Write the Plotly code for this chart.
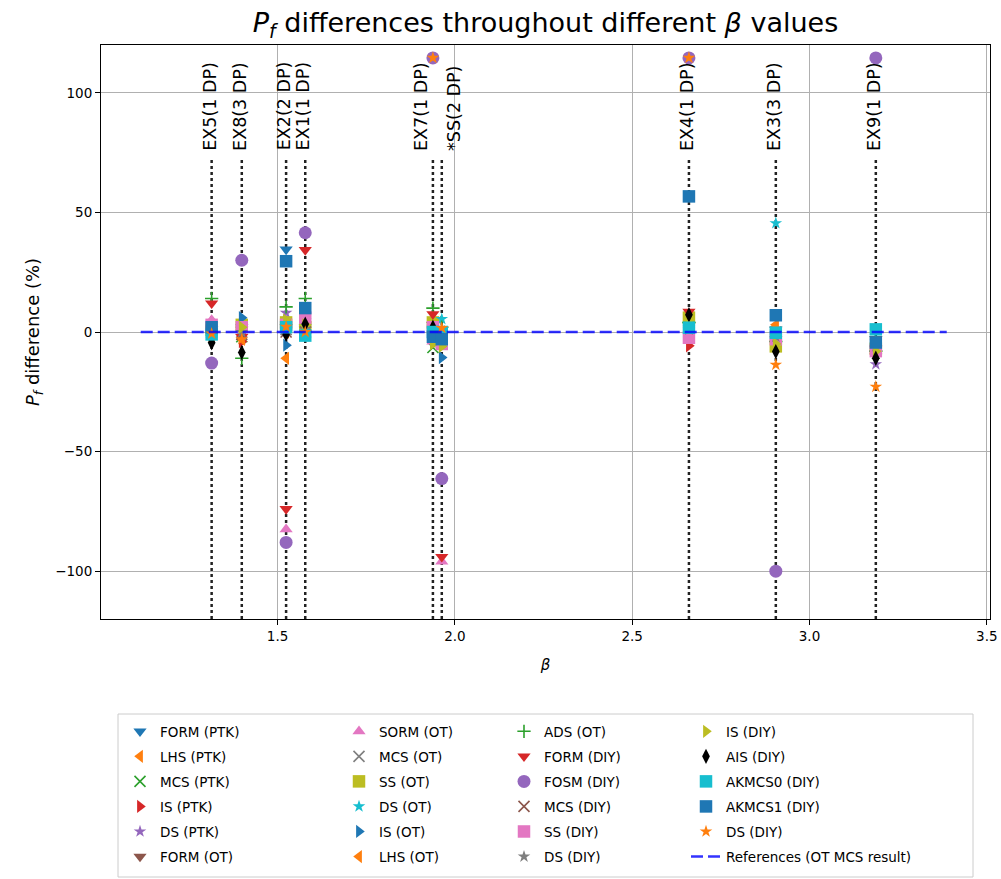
import plotly.graph_objects as go

# Examples (vertical marker lines) and their reliability indices
examples = ["EX5(1 DP)", "EX8(3 DP)", "EX2(2 DP)", "EX1(1 DP)", "EX7(1 DP)",
            "*SS(2 DP)", "EX4(1 DP)", "EX3(3 DP)", "EX9(1 DP)"]
beta = [1.314, 1.399, 1.524, 1.578, 1.938, 1.963, 2.660, 2.905, 3.187]

# Pf difference (%) of every method, one value per example (same order as beta)
form_ptk = [1.0, 2.0, 34.5, 2.0, 3.0, 1.0, 3.0, 1.0, -3.0]
lhs_ptk = [-2.0, -3.0, -11.0, 1.0, 0.0, 0.0, 2.0, 2.0, -6.0]
mcs_ptk = [0.5, -2.0, 3.0, 0.0, -6.5, -1.0, 1.0, -2.0, -7.0]
is_ptk = [-1.0, -4.0, 1.0, -1.0, 2.0, -2.0, -5.8, -4.0, -9.0]
ds_ptk = [4.0, 2.0, 8.0, 3.0, 1.0, 0.0, 2.0, -3.0, -13.5]
form_ot = [1.0, 1.0, 2.0, 1.0, 3.0, 1.0, 3.0, 1.0, -3.0]
sorm_ot = [5.0, 1.0, -82.5, 4.0, -4.0, -96.0, 1.0, -2.0, -8.0]
mcs_ot = [0.0, 0.0, 1.0, 0.0, 0.0, 0.0, 0.0, 0.0, -5.0]
ss_ot = [1.0, 3.0, 4.0, 2.0, 4.0, -4.0, 6.0, -6.0, -7.0]
ds_ot = [2.0, 1.0, 3.0, 5.0, 2.0, 5.4, 2.0, 45.5, -4.0]
is_ot = [-1.0, 6.0, -5.5, 1.0, 1.0, -10.7, 1.0, -1.0, -6.0]
lhs_ot = [-2.0, -3.0, 0.0, -1.0, 0.0, 0.0, 2.0, 3.0, -6.0]
ads_ot = [14.0, -11.0, 10.5, 14.0, 10.0, 2.0, 4.0, -4.0, -8.0]
form_diy = [12.0, -2.0, -74.0, 34.3, 7.5, -94.0, 8.5, -3.0, -7.0]
fosm_diy = [-13.0, 30.0, -88.0, 41.5, 114.6, -61.3, 114.6, -100.0, 114.6]
mcs_diy = [0.0, -1.0, 0.0, 0.0, 1.0, 0.0, 0.0, -1.0, -5.0]
ss_diy = [3.0, 2.0, 3.0, 6.0, 2.0, -5.0, -2.4, -3.0, -8.0]
ds_diy_a = [0.0, 0.0, 1.0, 1.0, 0.0, 0.0, 1.0, -2.0, -6.0]
is_diy = [-2.0, 2.0, 5.0, 3.0, -5.0, -6.0, 5.0, -5.0, -8.0]
ais_diy = [-4.5, -8.6, -1.0, 3.3, 2.0, -1.0, 7.2, -8.2, -11.0]
akmcs0_diy = [-1.0, None, 2.0, -1.5, 0.0, 0.0, 1.8, -0.3, 1.1]
akmcs1_diy = [2.0, None, 29.6, 10.0, -2.0, -3.0, 56.7, 7.0, -4.4]
ds_diy_b = [-0.7, -3.0, 2.2, 0.0, 114.6, 1.7, 114.6, -13.7, -22.9]

series_names = ["FORM (PTK)", "LHS (PTK)", "MCS (PTK)", "IS (PTK)", "DS (PTK)", "FORM (OT)",
                "SORM (OT)", "MCS (OT)", "SS (OT)", "DS (OT)", "IS (OT)", "LHS (OT)",
                "ADS (OT)", "FORM (DIY)", "FOSM (DIY)", "MCS (DIY)", "SS (DIY)", "DS (DIY)",
                "IS (DIY)", "AIS (DIY)", "AKMCS0 (DIY)", "AKMCS1 (DIY)", "DS (DIY)"]
series_values = [form_ptk, lhs_ptk, mcs_ptk, is_ptk, ds_ptk, form_ot,
                 sorm_ot, mcs_ot, ss_ot, ds_ot, is_ot, lhs_ot,
                 ads_ot, form_diy, fosm_diy, mcs_diy, ss_diy, ds_diy_a,
                 is_diy, ais_diy, akmcs0_diy, akmcs1_diy, ds_diy_b]

ref_label = "References (OT MCS result)"
ref_value = 0.0

# matplotlib-like styling
C = ["#1f77b4", "#ff7f0e", "#2ca02c", "#d62728", "#9467bd",
     "#8c564b", "#e377c2", "#7f7f7f", "#bcbd22", "#17becf"]
SYM = {
    "v": ("triangle-down", 11.5), "<": ("triangle-left", 11.5), ">": ("triangle-right", 11.5),
    "^": ("triangle-up", 11.5), "x": ("x-thin", 11), "+": ("cross-thin", 9.5),
    "*": ("star", 9.5), "s": ("square", 12.5), "o": ("circle", 13), "d": ("diamond-tall", 11),
}
styles = [("v", C[0]), ("<", C[1]), ("x", C[2]), (">", C[3]), ("*", C[4]), ("v", C[5]),
          ("^", C[6]), ("x", C[7]), ("s", C[8]), ("*", C[9]), (">", C[0]), ("<", C[1]),
          ("+", C[2]), ("v", C[3]), ("o", C[4]), ("x", C[5]), ("s", C[6]), ("*", C[7]),
          (">", C[8]), ("d", "#000000"), ("s", C[9]), ("s", C[0]), ("*", C[1])]

FONT = "DejaVu Sans"
W, H = 1001, 879
ML, MR, MT, MB = 101, 11, 45, 260
PW, PH = W - ML - MR, H - MT - MB


def px_x(p):
    return (p - ML) / PW


def px_y(p):
    return (H - MB - p) / PH


fig = go.Figure()

# dotted vertical markers for every example
line_top = 73
for b in beta:
    fig.add_trace(go.Scatter(x=[b, b], y=[-120, line_top], mode="lines",
                             line=dict(color="#222222", width=2.5, dash="dot"),
                             showlegend=False, hoverinfo="skip"))

# method results
for i, (name, vals) in enumerate(zip(series_names, series_values)):
    mk, col = styles[i]
    sym, sz = SYM[mk]
    thin = sym.endswith("-thin")
    fig.add_trace(go.Scatter(
        x=beta, y=vals, mode="markers", name=name,
        marker=dict(symbol=sym, size=sz, color=col,
                    line=dict(width=1.6 if thin else 0, color=col)),
        legend=["legend", "legend2", "legend3", "legend4"][i // 6],
        legendgroup="g%d" % i,
    ))

# reference line
ref_x = [min(beta) - 0.2, max(beta) + 0.2]
fig.add_trace(go.Scatter(x=ref_x, y=[ref_value, ref_value], mode="lines", name=ref_label,
                         line=dict(color="rgba(0,0,255,0.8)", width=2.5, dash="12px,5px"),
                         legend="legend4", legendgroup="ref"))

# rotated example labels; the two crowded ones near beta = 2 are pushed apart
for b, lab in zip(beta, examples):
    if lab.startswith("*"):
        anchor, shift = "left", 0
    elif lab.startswith("EX7"):
        anchor, shift = "right", 0
    else:
        anchor, shift = "center", -2
    fig.add_annotation(x=b, y=75, xref="x", yref="y", text=lab, textangle=-90,
                       showarrow=False, xanchor=anchor, xshift=shift,
                       yanchor="bottom", font=dict(family=FONT, size=17.5, color="black"))

# legend frame
fig.add_shape(type="rect", xref="paper", yref="paper",
              x0=px_x(118), x1=px_x(973), y0=px_y(714), y1=px_y(877),
              line=dict(color="#cccccc", width=1), fillcolor="rgba(255,255,255,0.8)", layer="below")

leg_common = dict(xanchor="left", yanchor="top", bgcolor="rgba(0,0,0,0)", borderwidth=0,
                  font=dict(family=FONT, size=13.5, color="black"),
                  traceorder="grouped", tracegroupgap=4.5, orientation="v")
leg_top = px_y(716)
fig.update_layout(
    legend=dict(x=px_x(120), y=leg_top, **leg_common),
    legend2=dict(x=px_x(339), y=leg_top, **leg_common),
    legend3=dict(x=px_x(504), y=leg_top, **leg_common),
    legend4=dict(x=px_x(686), y=leg_top, **leg_common),
)

axis_common = dict(showline=True, linecolor="black", linewidth=1, mirror=True,
                   ticks="outside", ticklen=5, tickcolor="black", tickwidth=1,
                   showgrid=True, gridcolor="#b0b0b0", gridwidth=1, zeroline=False,
                   tickfont=dict(family=FONT, size=13.5, color="black"))
fig.update_xaxes(range=[1.002, 3.509], tickvals=[1.5, 2.0, 2.5, 3.0, 3.5], tickformat=".1f",
                 title=dict(text="<i>β</i>", standoff=16,
                            font=dict(family=FONT, size=15, color="black")),
                 **axis_common)
fig.update_yaxes(range=[-120, 120], tickvals=[-100, -50, 0, 50, 100],
                 title=dict(text="<i>P</i><sub><i>f</i></sub> difference (%)", standoff=10,
                            font=dict(family=FONT, size=18, color="black")),
                 **axis_common)

fig.update_layout(
    template="none",
    width=W, height=H,
    margin=dict(l=ML, r=MR, t=MT, b=MB, autoexpand=False),
    paper_bgcolor="white", plot_bgcolor="white",
    font=dict(family=FONT, size=13.5, color="black"),
    title=dict(text="<i>P</i><sub><i>f</i></sub> differences throughout different <i>β</i> values",
               x=0.5, xref="paper", xanchor="center",
               y=1 - 23 / H, yref="container", yanchor="middle",
               font=dict(family=FONT, size=27, color="black")),
    showlegend=True,
)

fig.write_html("out.html")
